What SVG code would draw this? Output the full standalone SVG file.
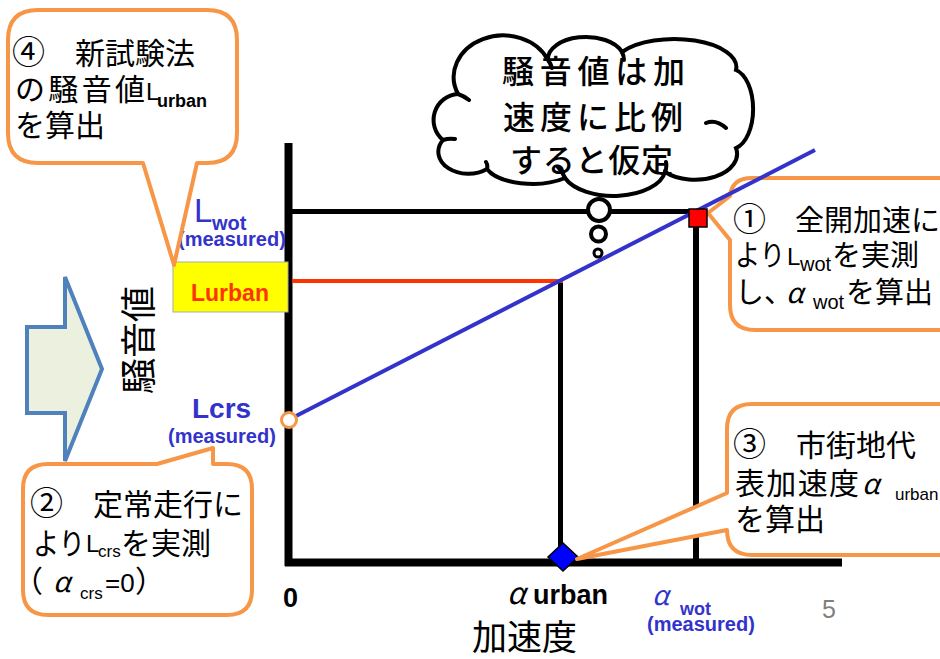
<svg xmlns="http://www.w3.org/2000/svg" width="940" height="659" viewBox="0 0 940 659">
<style>
.cjk{font-family:"Noto Sans CJK JP",sans-serif;fill:#000}
.lat{font-family:"Liberation Sans",Arial,sans-serif}
.b{font-weight:bold}
.blue{fill:#3333cc}
.co{fill:#fff;stroke:#f79646;stroke-width:4;stroke-linejoin:round}
.ax{stroke:#000;fill:none}
.gr{font-family:"Noto Sans CJK JP",sans-serif;font-style:italic}
.num{font-size:33px}
</style>
<rect width="940" height="659" fill="#fff"/>

<g id="arrow-block">
<path d="M27,327 H65 V277 L102,369 L65,461 V413 H27 Z" fill="#ebf1de" stroke="#4f81bd" stroke-width="4" stroke-linejoin="miter"/>
</g>

<g id="callout1">
<path class="co" d="M752,178 H962 V330 H755 Q730,330 730,305 V240 L708,213 L730,196 Q732,178 752,178 Z"/>
<text class="cjk" x="733" y="231" font-size="29"><tspan class="num">①</tspan>　全開加速に</text>
<text class="cjk" x="735" y="266" font-size="29" textLength="50" lengthAdjust="spacingAndGlyphs">より</text>
<text class="lat" x="787" y="265" font-size="24">L</text>
<text class="lat" x="800" y="271" font-size="20">wot</text>
<text class="cjk" x="832" y="266" font-size="29">を実測</text>
<text class="cjk" x="735" y="303" font-size="29">し、</text>
<text class="gr" x="786" y="303" font-size="28">α</text>
<text class="lat" x="813" y="309" font-size="20">wot</text>
<text class="cjk" x="846" y="303" font-size="29">を算出</text>
</g>

<g id="connectors">
<line class="ax" x1="288.5" y1="143" x2="288.5" y2="566" stroke-width="8"/>
<line class="ax" x1="285" y1="562.5" x2="842" y2="562.5" stroke-width="8"/>
<line class="ax" x1="288" y1="211.5" x2="696" y2="211.5" stroke-width="5"/>
<line class="ax" x1="696" y1="211" x2="696" y2="562" stroke-width="6"/>
<line class="ax" x1="560.5" y1="281" x2="560.5" y2="562" stroke-width="5"/>
<line x1="292" y1="281" x2="563" y2="281" stroke="#ff3300" stroke-width="4"/>
<line x1="295" y1="416.5" x2="815" y2="150" stroke="#3333cc" stroke-width="4"/>
</g>

<g id="markers">
<rect x="689" y="209" width="18" height="18" fill="#ff0000" stroke="#000" stroke-width="1.5"/>
<path d="M563,543 L578,557 L563,571 L548,557 Z" fill="#0000ff" stroke="#000" stroke-width="1.5"/>
<circle cx="289" cy="420" r="7.5" fill="#fff" stroke="#f79646" stroke-width="3"/>
</g>

<g id="lurban-box">
<rect x="173" y="262" width="115" height="50" fill="#ffff00" stroke="#aaa" stroke-width="1"/>
<text class="lat b" x="230" y="301" font-size="23" text-anchor="middle" fill="#ff3300">Lurban</text>
</g>

<g id="label-lwot">
<text class="lat blue" x="194" y="222" font-size="33">L</text>
<text class="lat b blue" x="212" y="230" font-size="20">wot</text>
<text class="lat b blue" x="178" y="246" font-size="20">(measured)</text>
</g>

<g id="label-lcrs">
<text class="lat b blue" x="192" y="418" font-size="28">Lcrs</text>
<text class="lat b blue" x="168" y="443" font-size="20">(measured)</text>
</g>

<g id="axis-labels">
<text class="cjk" transform="translate(152,340) rotate(-90)" font-size="36" text-anchor="middle">騒音値</text>
<text class="cjk" x="472" y="650" font-size="35">加速度</text>
<text class="lat b" x="283" y="607" font-size="27">0</text>
<text class="gr" x="507" y="604" font-size="30">α</text>
<text class="lat b" x="533" y="604" font-size="27">urban</text>
<text class="gr blue" x="652" y="605" font-size="27">α</text>
<text class="lat b blue" x="680" y="615" font-size="18">wot</text>
<text class="lat b blue" x="647" y="631" font-size="20">(measured)</text>
<text class="lat" x="822" y="618" font-size="25" fill="#7f7f7f">5</text>
</g>

<g id="callout4">
<path class="co" d="M38,10 H207 Q237,10 237,40 V133 Q237,163 207,163 H197 L174,265 L143,163 H38 Q8,163 8,133 V40 Q8,10 38,10 Z"/>
<text class="cjk" x="12" y="64" font-size="30"><tspan class="num">④</tspan>　新試験法</text>
<text class="cjk" x="15" y="100" font-size="30" textLength="130" lengthAdjust="spacing">の騒音値</text>
<text class="lat" x="146" y="100" font-size="24">L</text>
<text class="lat b" x="157" y="107" font-size="18">urban</text>
<text class="cjk" x="15" y="136" font-size="30">を算出</text>
</g>

<g id="callout2">
<path class="co" d="M48,464 H157 L213,448 L213,464 H227 Q252,464 252,489 V590 Q252,615 227,615 H48 Q23,615 23,590 V489 Q23,464 48,464 Z"/>
<text class="cjk" x="30" y="515" font-size="30"><tspan class="num">②</tspan>　定常走行に</text>
<text class="cjk" x="33" y="554" font-size="30" textLength="52" lengthAdjust="spacingAndGlyphs">より</text>
<text class="lat" x="86" y="552" font-size="24">L</text>
<text class="lat" x="98" y="557" font-size="17">crs</text>
<text class="cjk" x="121" y="554" font-size="30">を実測</text>
<text class="cjk" x="13" y="592" font-size="30">（</text>
<text class="gr" x="53" y="592" font-size="28">α</text>
<text class="lat" x="80" y="599" font-size="17">crs</text>
<text class="lat" x="105" y="592" font-size="26">=0</text>
<text class="cjk" x="135" y="592" font-size="30">）</text>
</g>

<g id="callout3">
<path class="co" d="M752,404 H962 V555 H752 Q727,555 727,530 L577,559 L727,493 V429 Q727,404 752,404 Z"/>
<text class="cjk" x="733" y="456" font-size="30"><tspan class="num">③</tspan>　市街地代</text>
<text class="cjk" x="735" y="494" font-size="30" textLength="124" lengthAdjust="spacing">表加速度</text>
<text class="gr" x="862" y="494" font-size="28">α</text>
<text class="lat" x="895" y="500" font-size="17">urban</text>
<text class="cjk" x="735" y="530" font-size="30">を算出</text>
</g>

<g id="thought-cloud">
<path d="M458,94 A45,38 0 0 1 548,60 A38,22 0 0 1 622,52 A62,28 0 0 1 736,70 A22,40 0 0 1 736,148 A42,26 0 0 1 665,172 A52,28 0 0 1 565,178 A48,22 0 0 1 487,169 A30,22 0 0 1 443,140 A26,26 0 0 1 458,94 Z" fill="#fff" stroke="#000" stroke-width="4"/>
<path d="M458,94 Q464,96 469,100 M548,60 Q551,64 552,68 M622,52 Q624,56 624,60 M706,123 Q716,119 726,128 M665,172 Q667,168 666,162 M565,178 Q563,172 558,167 M487,169 Q488,165 486,162 M443,140 Q449,138 455,139" fill="none" stroke="#000" stroke-width="4" stroke-linecap="round"/>
<text class="cjk" x="502" y="83" font-size="32" font-weight="500" textLength="183" lengthAdjust="spacing">騒音値は加</text>
<text class="cjk" x="503" y="129" font-size="32" font-weight="500" textLength="180" lengthAdjust="spacing">速度に比例</text>
<text class="cjk" x="510" y="172" font-size="32" font-weight="500" textLength="163" lengthAdjust="spacing">すると仮定</text>
<circle cx="599" cy="210" r="11" fill="#fff" stroke="#000" stroke-width="4"/>
<circle cx="598.5" cy="234" r="7.5" fill="#fff" stroke="#000" stroke-width="4"/>
<circle cx="598" cy="253" r="4" fill="#fff" stroke="#000" stroke-width="3"/>
</g>
</svg>
